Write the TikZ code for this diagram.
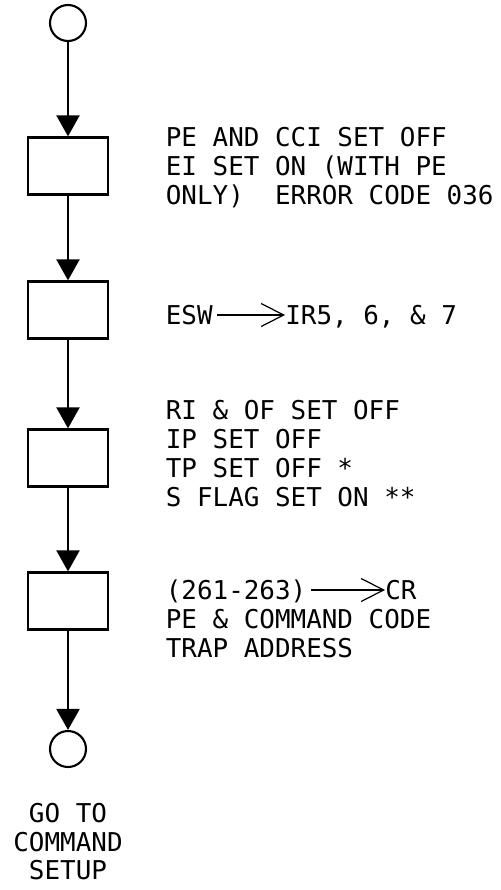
\documentclass[tikz,border=0pt]{standalone}
\usepackage{fontspec}
\newfontfamily\typefont{DejaVu Sans Mono}
\usetikzlibrary{arrows.meta}
\tikzset{
  stepbox/.style={draw, line width=1.3pt, minimum width=1.6cm, minimum height=1.14cm, inner sep=0pt},
  term/.style={draw, circle, line width=1.2pt, minimum size=0.72cm, inner sep=0pt},
  note/.style={font={\typefont\fontsize{14.75pt}{17pt}\selectfont}, inner sep=0pt, anchor=west, text height=0.378cm, text depth=0pt},
  flow/.style={-{Triangle[length=0.42cm, width=0.46cm]}, line width=1.3pt},
  thinflow/.style={-{Straight Barb[length=0.45cm, width=0.46cm]}, line width=0.7pt, shorten <=0.08cm},
}
\begin{document}
\frenchspacing
\begin{tikzpicture}
    \useasboundingbox (0,0) rectangle (10.02,-17.80);
    \node[term] (start) at (1.36,-0.46) {};
    \node[stepbox] (parity) at (1.36,-3.32) {};
    \node[stepbox] (status) at (1.36,-6.20) {};
    \node[stepbox] (flags) at (1.36,-9.16) {};
    \node[stepbox] (trapbox) at (1.36,-12.02) {};
    \node[term] (exit) at (1.36,-14.98) {};
    \draw[flow] (start) -- (parity);
    \draw[flow] (parity) -- (status);
    \draw[flow] (status) -- (flags);
    \draw[flow] (flags) -- (trapbox);
    \draw[flow] (trapbox) -- (exit);
    % step notes
    \node[note] (peoff) at (3.31,-2.74) {PE AND CCI SET OFF};
    \node[note] (eion) at (3.31,-3.32) {EI SET ON (WITH PE};
    \node[note] (errcode) at (3.31,-3.90) {ONLY)~~ERROR CODE 036};
    \node[note] (esw) at (3.31,-6.30) {ESW};
    \node[note] (irs) at (5.70,-6.30) {IR5, 6, \& 7};
    \draw[thinflow] (esw) -- (irs);
    \node[note] (rioff) at (3.31,-8.20) {RI \& OF SET OFF};
    \node[note] (ipoff) at (3.31,-8.78) {IP SET OFF};
    \node[note] (tpoff) at (3.31,-9.36) {TP SET OFF *};
    \node[note] (sflag) at (3.31,-9.94) {S FLAG SET ON **};
    \node[note] (locs) at (3.31,-11.80) {(261-263)};
    \node[note] (cr) at (7.70,-11.80) {CR};
    \draw[thinflow] (locs) -- (cr);
    \node[note] (cmdcode) at (3.31,-12.38) {PE \& COMMAND CODE};
    \node[note] (trap) at (3.31,-12.96) {TRAP ADDRESS};
    % exit label
    \node[note, anchor=center] (goto) at (1.36,-16.26) {GO TO};
    \node[note, anchor=center] (command) at (1.36,-16.84) {COMMAND};
    \node[note, anchor=center] (setup) at (1.36,-17.40) {SETUP};
\end{tikzpicture}
\end{document}
